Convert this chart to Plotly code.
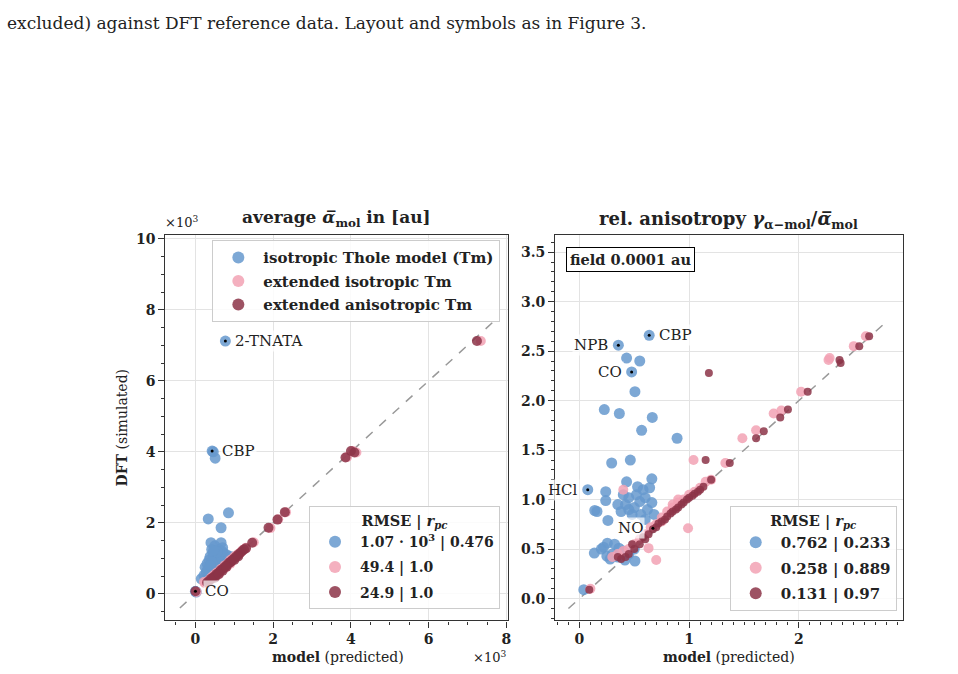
import plotly.graph_objects as go

# ---------------- data: left panel (average polarizability, x10^3 au) ----------------
L_blue_x = [0.77, 0.43, 0.46, 0.51, 0.33, 0.85, 0.66, 0.40, 0.66, 0.00, 0.02,
            0.15, 0.22, 0.28, 0.30, 0.35, 0.38, 0.42, 0.45, 0.50, 0.55, 0.60, 0.62, 0.70, 0.72,
            0.75, 0.80, 0.45, 0.50, 0.55, 0.40, 0.35, 0.60, 0.65, 0.70, 0.48, 0.58, 0.52, 0.25,
            0.32, 0.42, 0.85, 0.90, 0.68, 0.38, 0.56, 0.63, 0.47]
L_blue_y = [7.12, 4.02, 4.00, 3.82, 2.11, 2.28, 1.86, 1.44, 1.44, 0.07, 0.05,
            0.42, 0.52, 0.62, 0.85, 0.95, 1.05, 1.25, 1.15, 1.35, 1.10, 1.25, 1.05, 1.30, 1.15,
            1.00, 1.10, 0.80, 0.95, 0.75, 0.65, 0.55, 0.90, 0.85, 0.95, 1.05, 1.00, 0.60, 0.75,
            0.70, 0.90, 0.95, 1.05, 1.20, 0.80, 1.18, 0.70, 1.22]

L_pink_x = [0.03, 0.25, 0.30, 0.35, 0.40, 0.45, 0.50, 0.55, 0.60, 0.65, 0.70, 0.75, 0.80,
            0.85, 0.90, 0.95, 1.00, 1.05, 1.10, 1.15, 1.20, 1.25, 1.30, 1.50, 1.93, 2.13,
            2.33, 3.90, 4.14, 4.05, 7.34, 0.60, 0.90, 0.80, 0.22, 0.38]
L_pink_y = [0.05, 0.30, 0.35, 0.38, 0.45, 0.50, 0.55, 0.60, 0.62, 0.70, 0.72, 0.80, 0.82,
            0.88, 0.95, 0.98, 1.05, 1.08, 1.12, 1.15, 1.22, 1.25, 1.30, 1.45, 1.85, 2.10,
            2.30, 3.85, 3.98, 4.02, 7.12, 0.55, 0.85, 0.75, 0.33, 0.40]

L_dred_x = [0.00, 0.30, 0.35, 0.40, 0.45, 0.50, 0.55, 0.60, 0.65, 0.70, 0.75, 0.80, 0.85,
            0.90, 0.95, 1.00, 1.05, 1.10, 1.15, 1.20, 1.25, 1.30, 1.46, 1.88, 2.11, 2.30,
            3.86, 4.00, 4.09, 7.24, 0.70, 0.90, 1.00, 0.50, 0.60, 0.80, 1.10]
L_dred_y = [0.07, 0.32, 0.36, 0.42, 0.46, 0.50, 0.56, 0.60, 0.66, 0.70, 0.75, 0.80, 0.86,
            0.90, 0.95, 1.00, 1.05, 1.10, 1.15, 1.20, 1.25, 1.28, 1.44, 1.86, 2.09, 2.30,
            3.84, 4.02, 3.98, 7.12, 0.65, 0.88, 0.95, 0.45, 0.55, 0.76, 1.05]

L_lab_names = ["2-TNATA", "CBP", "CO"]
L_lab_x = [0.77, 0.43, 0.00]
L_lab_y = [7.12, 4.02, 0.07]

# ---------------- data: right panel (relative anisotropy) ----------------
R_blue_x = [0.355, 0.476, 0.636, 0.43, 0.55, 0.506, 0.227, 0.364, 0.664, 0.567, 0.89, 0.294,
            0.464, 0.076, 0.43, 0.66, 0.24, 0.24, 0.14, 0.26, 0.04, 0.136, 0.255, 0.25, 0.415,
            0.506, 0.36, 0.38, 0.42, 0.45, 0.50, 0.52, 0.55, 0.58, 0.60, 0.62, 0.48, 0.40, 0.35,
            0.56, 0.64, 0.66, 0.45, 0.53, 0.60, 0.68, 0.20, 0.30, 0.35, 0.32, 0.45, 0.28, 0.50,
            0.22, 0.40, 0.16]
R_blue_y = [2.56, 2.29, 2.66, 2.43, 2.40, 2.09, 1.91, 1.87, 1.83, 1.70, 1.62, 1.37,
            1.40, 1.10, 1.18, 1.21, 1.08, 0.99, 0.89, 0.79, 0.09, 0.46, 0.56, 0.43, 0.39,
            0.38, 0.51, 0.88, 0.95, 1.02, 0.92, 1.05, 0.98, 1.10, 1.02, 0.90, 0.85, 1.05, 0.95,
            0.85, 1.12, 0.97, 0.90, 1.13, 0.80, 0.85, 0.50, 0.45, 0.42, 0.55, 0.45, 0.40, 0.50,
            0.52, 0.48, 0.88]

R_pink_x = [0.10, 0.30, 0.35, 0.40, 0.45, 0.50, 0.55, 0.60, 0.65, 0.70, 0.75, 0.80, 0.85,
            0.90, 0.95, 1.00, 1.05, 1.10, 1.15, 1.20, 0.85, 0.90, 0.75, 0.40, 1.04, 0.99, 0.70,
            0.63, 1.485, 1.61, 1.33, 1.77, 2.02, 2.27, 2.28, 2.50, 2.61, 1.84]
R_pink_y = [0.10, 0.42, 0.45, 0.48, 0.50, 0.55, 0.60, 0.65, 0.72, 0.75, 0.82, 0.88, 0.92,
            0.97, 1.00, 1.05, 1.08, 1.12, 1.18, 1.20, 0.95, 1.00, 0.78, 1.10, 1.40, 0.71, 0.39,
            0.51, 1.62, 1.70, 1.37, 1.87, 2.09, 2.41, 2.43, 2.55, 2.65, 1.90]

R_dred_x = [0.09, 0.38, 0.42, 0.45, 0.50, 0.55, 0.60, 0.63, 0.67, 0.70, 0.72, 0.75, 0.78,
            0.80, 0.83, 0.85, 0.88, 0.90, 0.93, 0.95, 0.98, 1.00, 1.03, 1.05, 1.08, 1.10, 1.13,
            1.20, 1.15, 1.37, 1.61, 1.68, 1.83, 1.90, 2.08, 2.37, 2.38, 2.55, 2.64, 1.18, 0.35,
            0.48, 0.58]
R_dred_y = [0.09, 0.40, 0.42, 0.45, 0.50, 0.55, 0.60, 0.65, 0.70, 0.72, 0.76, 0.78, 0.80,
            0.83, 0.86, 0.88, 0.90, 0.92, 0.95, 0.97, 1.00, 1.02, 1.04, 1.06, 1.08, 1.10, 1.13,
            1.20, 1.40, 1.37, 1.62, 1.69, 1.83, 1.91, 2.09, 2.41, 2.38, 2.55, 2.65, 2.28, 0.42,
            0.55, 0.62]

R_lab_names = ["NPB", "CO", "CBP", "HCl", "NO"]
R_lab_x = [0.355, 0.476, 0.636, 0.076, 0.67]
R_lab_y = [2.56, 2.29, 2.66, 1.10, 0.71]

legend_names = ["isotropic Thole model (Tm)", "extended isotropic Tm", "extended anisotropic Tm"]
L_rmse = ["1.07 · 10<sup>3</sup> | 0.476", "49.4 | 1.0", "24.9 | 1.0"]
R_rmse = ["0.762 | 0.233", "0.258 | 0.889", "0.131 | 0.97"]

L_diag = [-0.4, 7.7]
R_diag = [-0.1, 2.8]

# ---------------- style ----------------
BLUE = "rgba(102,153,206,0.85)"
PINK = "rgba(242,162,180,0.85)"
DRED = "rgba(140,52,72,0.85)"
SERIF = "DejaVu Serif"
AX = "#333333"
GRID = "#e3e3e3"

fig = go.Figure()

# diagonals
fig.add_trace(go.Scatter(x=L_diag, y=L_diag, mode="lines", line=dict(color="#999999", dash="dash", width=1.5),
                         showlegend=False, xaxis="x", yaxis="y", hoverinfo="skip"))
fig.add_trace(go.Scatter(x=R_diag, y=R_diag, mode="lines", line=dict(color="#999999", dash="dash", width=1.5),
                         showlegend=False, xaxis="x2", yaxis="y2", hoverinfo="skip"))

# left scatter
fig.add_trace(go.Scatter(x=L_blue_x, y=L_blue_y, mode="markers", marker=dict(color=BLUE, size=11),
                         showlegend=False, xaxis="x", yaxis="y"))
fig.add_trace(go.Scatter(x=L_pink_x, y=L_pink_y, mode="markers", marker=dict(color=PINK, size=10),
                         showlegend=False, xaxis="x", yaxis="y"))
fig.add_trace(go.Scatter(x=L_dred_x, y=L_dred_y, mode="markers", marker=dict(color=DRED, size=10),
                         showlegend=False, xaxis="x", yaxis="y"))
# right scatter
fig.add_trace(go.Scatter(x=R_blue_x, y=R_blue_y, mode="markers", marker=dict(color=BLUE, size=11),
                         showlegend=False, xaxis="x2", yaxis="y2"))
fig.add_trace(go.Scatter(x=R_pink_x, y=R_pink_y, mode="markers", marker=dict(color=PINK, size=10),
                         showlegend=False, xaxis="x2", yaxis="y2"))
fig.add_trace(go.Scatter(x=R_dred_x, y=R_dred_y, mode="markers", marker=dict(color=DRED, size=8),
                         showlegend=False, xaxis="x2", yaxis="y2"))

# labelled points (black dots)
fig.add_trace(go.Scatter(x=L_lab_x, y=L_lab_y, mode="markers", marker=dict(color="black", size=3),
                         showlegend=False, xaxis="x", yaxis="y"))
fig.add_trace(go.Scatter(x=R_lab_x, y=R_lab_y, mode="markers", marker=dict(color="black", size=3),
                         showlegend=False, xaxis="x2", yaxis="y2"))

# legend entries
cols = [BLUE, PINK, DRED]
for i, (n, c) in enumerate(zip(legend_names, cols)):
    fig.add_trace(go.Scatter(x=[None], y=[None], mode="markers", marker=dict(color=c, size=12),
                             name="<b>" + n + "</b>", legend="legend", legendgroup="a%d" % i,
                             xaxis="x", yaxis="y"))
for i, (n, c) in enumerate(zip(L_rmse, cols)):
    fig.add_trace(go.Scatter(x=[None], y=[None], mode="markers", marker=dict(color=c, size=12),
                             name="<b>" + n + "</b>", legend="legend2", legendgroup="b%d" % i,
                             xaxis="x", yaxis="y"))
for i, (n, c) in enumerate(zip(R_rmse, cols)):
    fig.add_trace(go.Scatter(x=[None], y=[None], mode="markers", marker=dict(color=c, size=12),
                             name="<b>" + n + "</b>", legend="legend3", legendgroup="c%d" % i,
                             xaxis="x2", yaxis="y2"))

W, H = 958, 674
def px(x):
    return x / W
def py(y):
    return 1 - y / H

tickfont = dict(family=SERIF, size=14, color="#222222", weight="bold")

def axis(dom, rng, dtick, minor, anchor, fmt=None):
    d = dict(domain=dom, range=rng, dtick=dtick, tick0=0, showline=True, linecolor=AX, linewidth=1.2,
             mirror=True, ticks="outside", ticklen=6, tickwidth=1.2, tickcolor=AX, showgrid=True,
             gridcolor=GRID, gridwidth=1, zeroline=False, tickfont=tickfont, anchor=anchor,
             minor=dict(ticks="outside", dtick=minor, tick0=0, ticklen=3, tickcolor=AX, showgrid=False))
    if fmt:
        d["tickformat"] = fmt
    return d

def leg(x, y, size, gap, title=None):
    d = dict(bgcolor="rgba(255,255,255,0.85)", bordercolor="#cccccc", borderwidth=1,
             font=dict(family=SERIF, size=size, color="#222222"), xanchor="left", yanchor="top",
             itemclick=False, tracegroupgap=gap, itemwidth=40, x=x, y=y)
    if title:
        d["title"] = dict(text=title, side="top center", font=dict(family=SERIF, size=14.5))
    return d

RT = "<b>RMSE | <i>r</i><sub><i>pc</i></sub></b>"

fig.update_layout(
    width=W, height=H, margin=dict(l=0, r=0, t=0, b=0),
    paper_bgcolor="white", plot_bgcolor="white",
    xaxis=axis([px(166), px(510)], [-0.77, 8.05], 2, 0.5, "y"),
    yaxis=axis([py(620), py(232)], [-0.75, 10.1], 2, 0.5, "x"),
    xaxis2=axis([px(557), px(906)], [-0.22, 2.95], 1, 0.1, "y2"),
    yaxis2=axis([py(620), py(232)], [-0.22, 3.67], 0.5, 0.1, "x2", ".1f"),
    legend=leg(px(213), py(237), 15, 1),
    legend2=leg(px(310), py(505), 14, 4, RT),
    legend3=leg(px(732), py(505), 15, 3, RT),
    showlegend=True,
)

ann = []
def A(text, x, y, xref="paper", yref="paper", size=15, xanchor="center", yanchor="middle", **kw):
    ann.append(dict(text=text, x=x, y=y, xref=xref, yref=yref, showarrow=False,
                    font=dict(family=SERIF, size=size, color="#222222"), xanchor=xanchor,
                    yanchor=yanchor, **kw))

# caption
A("excluded) against DFT reference data. Layout and symbols as in Figure 3.", px(5), py(18),
  size=17, xanchor="left")
# titles
A("<b>average <i>α̅</i><sub>mol</sub> in [au]</b>", px(338), py(215), size=17)
A("<b>rel. anisotropy <i>γ</i><sub>α−mol</sub>/<i>α̅</i><sub>mol</sub></b>", px(731), py(217), size=18)
# axis titles
A("<b>model</b> (predicted)", px(339), py(657), size=14)
A("<b>model</b> (predicted)", px(731), py(657), size=14)
A("<b>DFT</b> (simulated)", px(122), py(426), size=14, textangle=-90)
# offset texts
A("×10<sup>3</sup>", px(164), py(219), size=13, xanchor="left")
A("×10<sup>3</sup>", px(510), py(657), size=13, xanchor="right")
# field box
A("<b>field 0.0001 au</b>", px(568), py(256), size=14.5, xanchor="left", bordercolor="black",
  borderwidth=1, bgcolor="white", borderpad=3)

lbg = "rgba(255,255,255,0.7)"
# left labels
for n, x, y in zip(L_lab_names, L_lab_x, L_lab_y):
    A(n, x, y, xref="x", yref="y", size=15, xanchor="left", xshift=8, bgcolor=lbg)
# right labels
R_side = ["left", "left", "right", "left", "left"]
for n, x, y, s in zip(R_lab_names, R_lab_x, R_lab_y, R_side):
    if s == "right":
        A(n, x, y, xref="x2", yref="y2", size=15, xanchor="left", xshift=8, bgcolor=lbg)
    else:
        A(n, x, y, xref="x2", yref="y2", size=15, xanchor="right", xshift=-8, bgcolor=lbg)

fig.update_layout(annotations=ann)
fig.write_html("out.html")
